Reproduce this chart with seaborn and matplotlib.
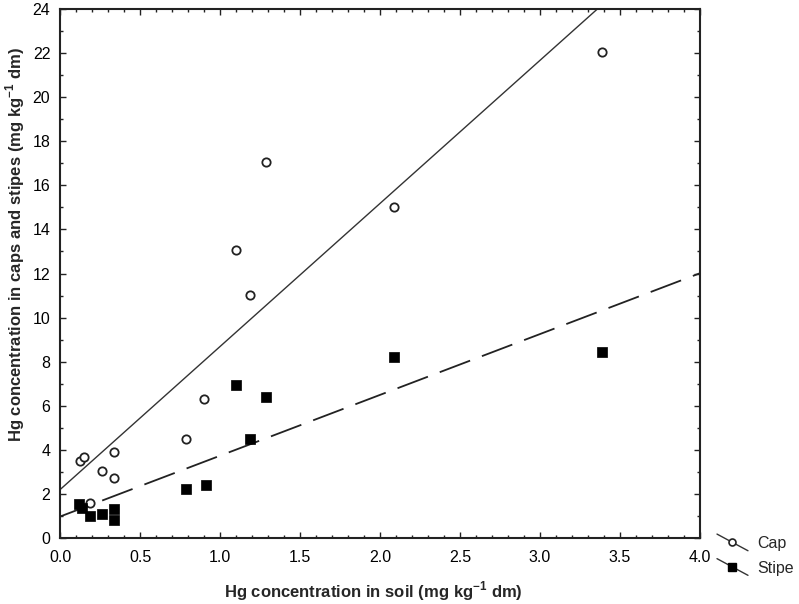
import numpy as np
import pandas as pd
import matplotlib
matplotlib.use("Agg")
import matplotlib.pyplot as plt
import seaborn as sns
from matplotlib.lines import Line2D
from matplotlib.legend_handler import HandlerLine2D
from matplotlib.ticker import MultipleLocator

# ---- data ----
cap_soil = [0.125, 0.15, 0.34, 0.26, 0.34, 0.19, 0.79, 0.90, 1.10, 1.19, 1.29, 2.09, 3.39]
cap_hg = [3.5, 3.66, 3.89, 3.04, 2.71, 1.6, 4.5, 6.3, 13.07, 11.03, 17.05, 15.02, 22.06]
stipe_soil = [0.12, 0.14, 0.19, 0.26, 0.34, 0.34, 0.79, 0.91, 1.10, 1.19, 1.29, 2.09, 3.39]
stipe_hg = [1.54, 1.36, 1.0, 1.07, 1.3, 0.82, 2.22, 2.39, 6.94, 4.5, 6.4, 8.2, 8.43]
parts = ["Cap", "Stipe"]
x_ticks = [0.0, 0.5, 1.0, 1.5, 2.0, 2.5, 3.0, 3.5, 4.0]
y_ticks = list(range(0, 25, 2))

cap_df = pd.DataFrame({"soil": cap_soil, "hg": cap_hg, "part": parts[0]})
stipe_df = pd.DataFrame({"soil": stipe_soil, "hg": stipe_hg, "part": parts[1]})

sns.set_theme(style="ticks")
plt.rcParams["font.family"] = ["Liberation Sans", "DejaVu Sans"]
plt.rcParams["mathtext.fontset"] = "custom"
plt.rcParams["mathtext.rm"] = "Liberation Sans"
plt.rcParams["mathtext.bf"] = "Liberation Sans:bold"

fig = plt.figure(figsize=(7.99, 6.04), dpi=100)
ax = fig.add_axes([60 / 799, 66 / 604, 640 / 799, 529 / 604])
ax.set_xlim(0, 4)
ax.set_ylim(0, 24)

# regression lines
sns.regplot(data=cap_df, x="soil", y="hg", ax=ax, scatter=False, ci=None, truncate=False,
            line_kws=dict(color="#333333", lw=1.0))
sns.regplot(data=stipe_df, x="soil", y="hg", ax=ax, scatter=False, ci=None, truncate=False,
            line_kws=dict(color="#222222", lw=1.3, dashes=(18, 7)))

# points
sns.scatterplot(data=cap_df, x="soil", y="hg", ax=ax, marker="o", s=36,
                facecolor="white", edgecolor="#222222", linewidth=1.3, zorder=3, legend=False)
sns.scatterplot(data=stipe_df, x="soil", y="hg", ax=ax, marker="s", s=50,
                color="black", edgecolor="black", linewidth=0.5, zorder=3, legend=False)

ax.set_xlim(0, 4)
ax.set_ylim(0, 24)
ax.set_xticks(x_ticks)
ax.set_xticklabels([f"{t:.1f}" for t in x_ticks])
ax.set_yticks(y_ticks)
ax.set_yticklabels([str(t) for t in y_ticks])
ax.xaxis.set_minor_locator(MultipleLocator(0.1))
ax.yaxis.set_minor_locator(MultipleLocator(1))
ax.tick_params(which="both", direction="in", top=True, right=True, color="#222222",
               labelsize=11.5, labelcolor="black")
ax.tick_params(axis="x", which="major", pad=9)
ax.tick_params(axis="y", which="major", pad=7)
ax.tick_params(which="major", length=4, width=1)
ax.tick_params(which="minor", length=2.5, width=1)
for s in ax.spines.values():
    s.set_visible(True)
    s.set_color("#222222")
    s.set_linewidth(1.5)

ax.set_xlabel(r"Hg concentration in soil (mg kg$^{\mathbf{-1}}$ dm)", fontsize=12,
              fontweight="bold")
ax.set_ylabel(r"Hg concentration in caps and stipes (mg kg$^{\mathbf{-1}}$ dm)", fontsize=12,
              fontweight="bold")
ax.xaxis.set_label_coords(0.49, -0.078)
ax.yaxis.set_label_coords(-0.052, 0.554)


class DiagHandler(HandlerLine2D):
    def create_artists(self, legend, orig_handle, xdescent, ydescent, width, height,
                       fontsize, trans):
        cy = height / 2 - ydescent
        ln = Line2D([0 - xdescent, width - xdescent], [cy + 6, cy - 6],
                    color="#333333", lw=1.0, transform=trans)
        mk = Line2D([width / 2 - xdescent], [cy],
                    marker=orig_handle.get_marker(), markersize=orig_handle.get_markersize(),
                    markerfacecolor=orig_handle.get_markerfacecolor(),
                    markeredgecolor=orig_handle.get_markeredgecolor(),
                    markeredgewidth=orig_handle.get_markeredgewidth(),
                    linestyle="none", transform=trans)
        return [ln, mk]


handles = [
    Line2D([], [], marker="o", markersize=5, markerfacecolor="white",
           markeredgecolor="#222222", markeredgewidth=1.2, color="#333333"),
    Line2D([], [], marker="s", markersize=6, markerfacecolor="black",
           markeredgecolor="black", color="#333333"),
]
fig.legend(handles, parts, loc="upper left", bbox_to_anchor=(717 / 799, 1 - 536 / 604),
           frameon=False, fontsize=11.5, handlelength=1.94, handletextpad=0.56,
           labelspacing=0.6, borderaxespad=0, borderpad=0,
           handler_map={Line2D: DiagHandler()})

fig.savefig("out.png", dpi=100)
